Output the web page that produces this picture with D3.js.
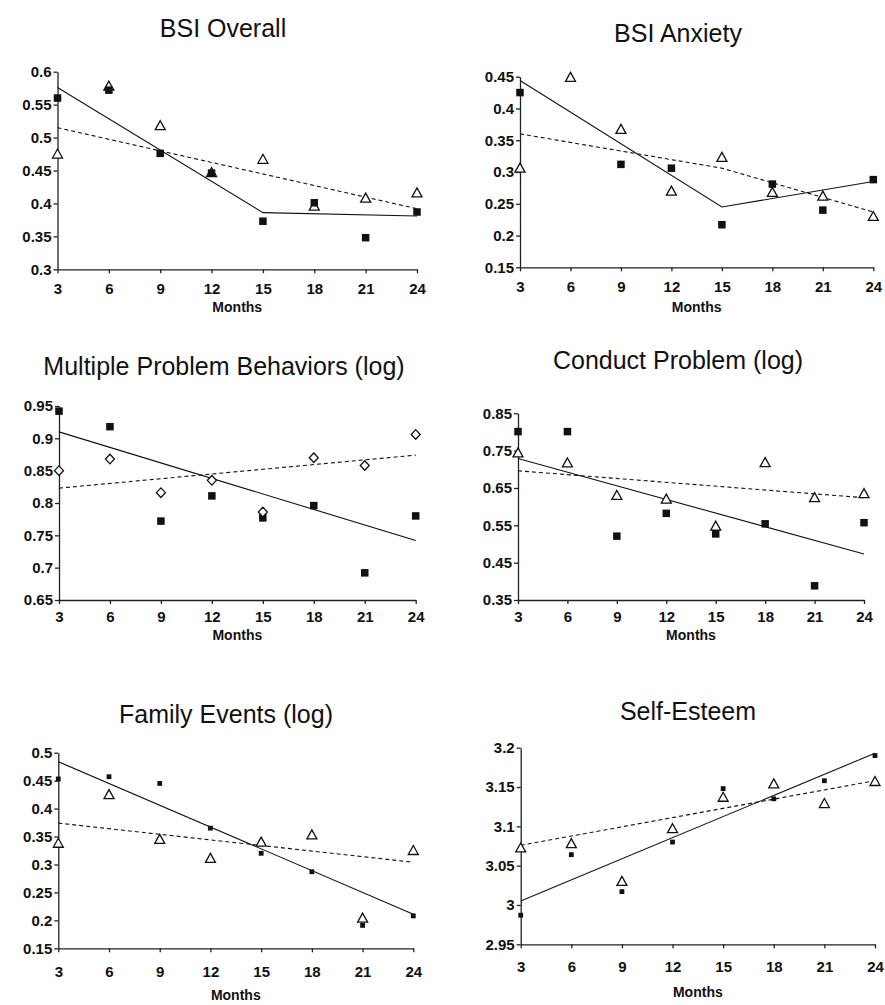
<!DOCTYPE html>
<html>
<head>
<meta charset="utf-8">
<script src="https://cdn.jsdelivr.net/npm/d3@7"></script>
<style>
  body { margin: 0; background: #fff; }
  svg { display: block; font-family: Arial, "Liberation Sans", Helvetica, sans-serif; }
  .tick text { font-family: Arial, "Liberation Sans", Helvetica, sans-serif; font-weight: bold; font-size: 15px; fill: #111; }
  .domain, .tick line { stroke: #222; stroke-width: 1.3; }
</style>
</head>
<body>
<div id="chart-container"></div>
<script>
/**************************************************
 * Data
 **************************************************/

const months = [3, 6, 9, 12, 15, 18, 21, 24];

// BSI Overall
const bsiOverallSquares = [0.560, 0.572, 0.476, 0.446, 0.373, 0.401, 0.348, 0.387];
const bsiOverallTriangles = [0.475, 0.578, 0.518, 0.447, 0.467, 0.396, 0.408, 0.416];
const bsiOverallSolid = [[3, 0.576], [15, 0.386], [24, 0.381]];
const bsiOverallDashed = [[3, 0.515], [24, 0.392]];
const bsiOverallTicks = [0.3, 0.35, 0.4, 0.45, 0.5, 0.55, 0.6];
const bsiOverallLabels = ["0.3", "0.35", "0.4", "0.45", "0.5", "0.55", "0.6"];

// BSI Anxiety (no square at 6 months)
const bsiAnxietySquares = [0.425, null, 0.312, 0.306, 0.217, 0.281, 0.240, 0.288];
const bsiAnxietyTriangles = [0.306, 0.449, 0.367, 0.270, 0.323, 0.268, 0.262, 0.230];
const bsiAnxietySolid = [[3, 0.444], [15, 0.245], [24, 0.285]];
const bsiAnxietyDashed = [[3, 0.360], [15, 0.306], [24, 0.237]];
const bsiAnxietyTicks = [0.15, 0.2, 0.25, 0.3, 0.35, 0.4, 0.45];
const bsiAnxietyLabels = ["0.15", "0.2", "0.25", "0.3", "0.35", "0.4", "0.45"];

// Multiple Problem Behaviors (log)
const mpbSquares = [0.942, 0.918, 0.772, 0.811, 0.777, 0.796, 0.692, 0.780];
const mpbDiamonds = [0.850, 0.868, 0.816, 0.835, 0.786, 0.870, 0.858, 0.906];
const mpbSolid = [[3, 0.910], [24, 0.742]];
const mpbDashed = [[3, 0.823], [24, 0.874]];
const mpbTicks = [0.65, 0.7, 0.75, 0.8, 0.85, 0.9, 0.95];
const mpbLabels = ["0.65", "0.7", "0.75", "0.8", "0.85", "0.9", "0.95"];

// Conduct Problem (log)
const conductSquares = [0.801, 0.801, 0.521, 0.582, 0.527, 0.554, 0.388, 0.557];
const conductTriangles = [0.744, 0.717, 0.630, 0.620, 0.548, 0.718, 0.624, 0.635];
const conductSolid = [[3, 0.729], [24, 0.473]];
const conductDashed = [[3, 0.696], [24, 0.624]];
const conductTicks = [0.35, 0.45, 0.55, 0.65, 0.75, 0.85];
const conductLabels = ["0.35", "0.45", "0.55", "0.65", "0.75", "0.85"];

// Family Events (log)
const familySquares = [0.453, 0.457, 0.445, 0.365, 0.320, 0.287, 0.191, 0.208];
const familyTriangles = [0.338, 0.425, 0.345, 0.311, 0.340, 0.353, 0.204, 0.325];
const familySolid = [[3, 0.484], [24, 0.211]];
const familyDashed = [[3, 0.374], [24, 0.304]];
const familyTicks = [0.15, 0.2, 0.25, 0.3, 0.35, 0.4, 0.45, 0.5];
const familyLabels = ["0.15", "0.2", "0.25", "0.3", "0.35", "0.4", "0.45", "0.5"];

// Self-Esteem
const selfSquares = [2.987, 3.064, 3.017, 3.080, 3.148, 3.135, 3.158, 3.190];
const selfTriangles = [3.0725, 3.078, 3.030, 3.097, 3.137, 3.154, 3.129, 3.157];
const selfSolid = [[3, 3.005], [24, 3.193]];
const selfDashed = [[3, 3.076], [24, 3.158]];
const selfTicks = [2.95, 3, 3.05, 3.1, 3.15, 3.2];
const selfLabels = ["2.95", "3", "3.05", "3.1", "3.15", "3.2"];

/**************************************************
 * Panel layout
 **************************************************/

const panels = [
  { title: "BSI Overall", titleX: 223, titleY: 37,
    x0: 57.5, x1: 417, y0: 71.7, y1: 269.3, xPad: 10, monthsY: 312,
    filled: bsiOverallSquares, open: bsiOverallTriangles, openShape: "triangle",
    solid: bsiOverallSolid, dashed: bsiOverallDashed,
    ticks: bsiOverallTicks, labels: bsiOverallLabels, sq: 7.5, openOnTop: false },
  { title: "BSI Anxiety", titleX: 678, titleY: 42,
    x0: 520, x1: 873.3, y0: 76.7, y1: 267.3, xPad: 10, monthsY: 312,
    filled: bsiAnxietySquares, open: bsiAnxietyTriangles, openShape: "triangle",
    solid: bsiAnxietySolid, dashed: bsiAnxietyDashed,
    ticks: bsiAnxietyTicks, labels: bsiAnxietyLabels, sq: 7.5, openOnTop: false },
  { title: "Multiple Problem Behaviors (log)", titleX: 224, titleY: 375,
    x0: 59, x1: 415.7, y0: 406, y1: 600, xPad: 7, monthsY: 640,
    filled: mpbSquares, open: mpbDiamonds, openShape: "diamond",
    solid: mpbSolid, dashed: mpbDashed,
    ticks: mpbTicks, labels: mpbLabels, sq: 7.5, openOnTop: true },
  { title: "Conduct Problem (log)", titleX: 678, titleY: 369,
    x0: 518, x1: 864, y0: 413.3, y1: 600, xPad: 7, monthsY: 640,
    filled: conductSquares, open: conductTriangles, openShape: "triangle",
    solid: conductSolid, dashed: conductDashed,
    ticks: conductTicks, labels: conductLabels, sq: 7.5, openOnTop: true },
  { title: "Family Events (log)", titleX: 226, titleY: 723,
    x0: 58.3, x1: 413.3, y0: 752.7, y1: 948.3, xPad: 14, monthsY: 1000,
    filled: familySquares, open: familyTriangles, openShape: "triangle",
    solid: familySolid, dashed: familyDashed,
    ticks: familyTicks, labels: familyLabels, sq: 4.8, openOnTop: true },
  { title: "Self-Esteem", titleX: 688, titleY: 720,
    x0: 520.7, x1: 875, y0: 747.7, y1: 944.3, xPad: 13, monthsY: 997,
    filled: selfSquares, open: selfTriangles, openShape: "triangle",
    solid: selfSolid, dashed: selfDashed,
    ticks: selfTicks, labels: selfLabels, sq: 4.8, openOnTop: true }
];

/**************************************************
 * Rendering
 **************************************************/

const svg = d3.select("#chart-container")
  .append("svg")
  .attr("width", 885)
  .attr("height", 1005);

const trianglePath = "M0,-5 L5,4 L-5,4 Z";
const diamondPath = "M0,-4.8 L4.5,0 L0,4.8 L-4.5,0 Z";

function renderPanel(p) {
  const g = svg.append("g");
  const x = d3.scaleLinear().domain([3, 24]).range([p.x0, p.x1]);
  const y = d3.scaleLinear()
    .domain([p.ticks[0], p.ticks[p.ticks.length - 1]])
    .range([p.y1, p.y0]);

  // title
  g.append("text")
    .attr("x", p.titleX)
    .attr("y", p.titleY)
    .attr("text-anchor", "middle")
    .attr("font-size", "25px")
    .attr("fill", "#111")
    .text(p.title);

  // axes
  g.append("g")
    .attr("transform", `translate(0,${p.y1})`)
    .call(d3.axisBottom(x).tickValues(months).tickSize(4).tickSizeOuter(0).tickPadding(p.xPad)
      .tickFormat(d3.format("d")));

  g.append("g")
    .attr("transform", `translate(${p.x0},0)`)
    .call(d3.axisLeft(y).tickValues(p.ticks).tickSize(4).tickSizeOuter(0).tickPadding(2)
      .tickFormat((d, i) => p.labels[i]));

  g.append("text")
    .attr("x", (p.x0 + p.x1) / 2)
    .attr("y", p.monthsY)
    .attr("text-anchor", "middle")
    .attr("font-size", "14px")
    .attr("font-weight", "bold")
    .attr("fill", "#111")
    .text("Months");

  // fitted lines
  const line = d3.line().x(d => x(d[0])).y(d => y(d[1]));
  g.append("path")
    .attr("d", line(p.dashed))
    .attr("fill", "none")
    .attr("stroke", "#111")
    .attr("stroke-width", 1.1)
    .attr("stroke-dasharray", "4,3");
  g.append("path")
    .attr("d", line(p.solid))
    .attr("fill", "none")
    .attr("stroke", "#111")
    .attr("stroke-width", 1.1);

  const pts = (vals) => months.map((m, i) => ({ m, v: vals[i] })).filter(d => d.v != null);

  function drawFilled() {
    g.append("g").selectAll("rect")
      .data(pts(p.filled))
      .enter()
      .append("rect")
      .attr("x", d => x(d.m) - p.sq / 2)
      .attr("y", d => y(d.v) - p.sq / 2)
      .attr("width", p.sq)
      .attr("height", p.sq)
      .attr("fill", "#111");
  }

  function drawOpen() {
    g.append("g").selectAll("path")
      .data(pts(p.open))
      .enter()
      .append("path")
      .attr("d", p.openShape === "diamond" ? diamondPath : trianglePath)
      .attr("transform", d => `translate(${x(d.m)},${y(d.v)})`)
      .attr("fill", "#fff")
      .attr("stroke", "#111")
      .attr("stroke-width", 1.3);
  }

  if (p.openOnTop) { drawFilled(); drawOpen(); }
  else { drawOpen(); drawFilled(); }
}

panels.forEach(renderPanel);
</script>
</body>
</html>
